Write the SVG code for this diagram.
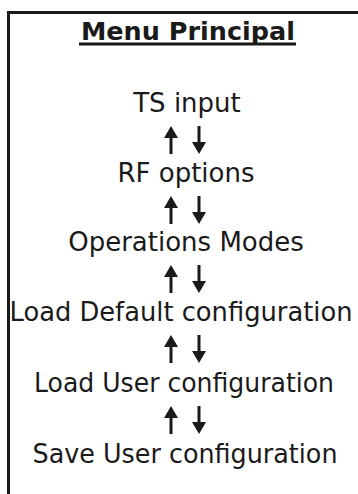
<svg xmlns="http://www.w3.org/2000/svg" xmlns:xlink="http://www.w3.org/1999/xlink" width="358" height="494" viewBox="0 0 358 494">
  <style>
    .item { font-family: "DejaVu Sans", Verdana, sans-serif; font-size: 26px; fill: #1a1a1a; text-anchor: middle; }
    .title { font-family: "DejaVu Sans", Verdana, sans-serif; font-size: 25.5px; font-weight: bold; fill: #1a1a1a; text-anchor: middle; }
    .frame { fill: none; stroke: #1a1a1a; stroke-width: 3; }
    .arrow { fill: #1a1a1a; }
  </style>
  <defs>
    <path id="up" class="arrow" d="M0,0 L7,12 L1.5,12 L1.5,28 L-1.5,28 L-1.5,12 L-7,12 Z"/>
    <path id="down" class="arrow" d="M0,28 L7,16 L1.5,16 L1.5,0 L-1.5,0 L-1.5,16 L-7,16 Z"/>
  </defs>
  <rect width="358" height="494" fill="#ffffff"/>
  <path class="frame" d="M8.5,494 V12.5 H358"/>
  <g id="title">
    <text class="title" x="188" y="40">Menu Principal</text>
    <rect x="79" y="42.5" width="217" height="3" fill="#1a1a1a"/>
  </g>
  <g id="ts-input"><text class="item" x="187" y="112">TS input</text></g>
  <g id="rf-options"><text class="item" x="186" y="182">RF options</text></g>
  <g id="operations-modes"><text class="item" x="186" y="251">Operations Modes</text></g>
  <g id="load-default"><text class="item" x="181" y="321" textLength="343" lengthAdjust="spacingAndGlyphs">Load Default configuration</text></g>
  <g id="load-user"><text class="item" x="184" y="392" textLength="300" lengthAdjust="spacingAndGlyphs">Load User configuration</text></g>
  <g id="save-user"><text class="item" x="185" y="463" textLength="305" lengthAdjust="spacingAndGlyphs">Save User configuration</text></g>
  <g id="connectors">
    <use xlink:href="#up" x="171" y="126"/><use xlink:href="#down" x="199" y="126"/>
    <use xlink:href="#up" x="171" y="196"/><use xlink:href="#down" x="199" y="196"/>
    <use xlink:href="#up" x="171" y="265"/><use xlink:href="#down" x="199" y="265"/>
    <use xlink:href="#up" x="171" y="335"/><use xlink:href="#down" x="199" y="335"/>
    <use xlink:href="#up" x="171" y="406"/><use xlink:href="#down" x="199" y="406"/>
  </g>
</svg>
